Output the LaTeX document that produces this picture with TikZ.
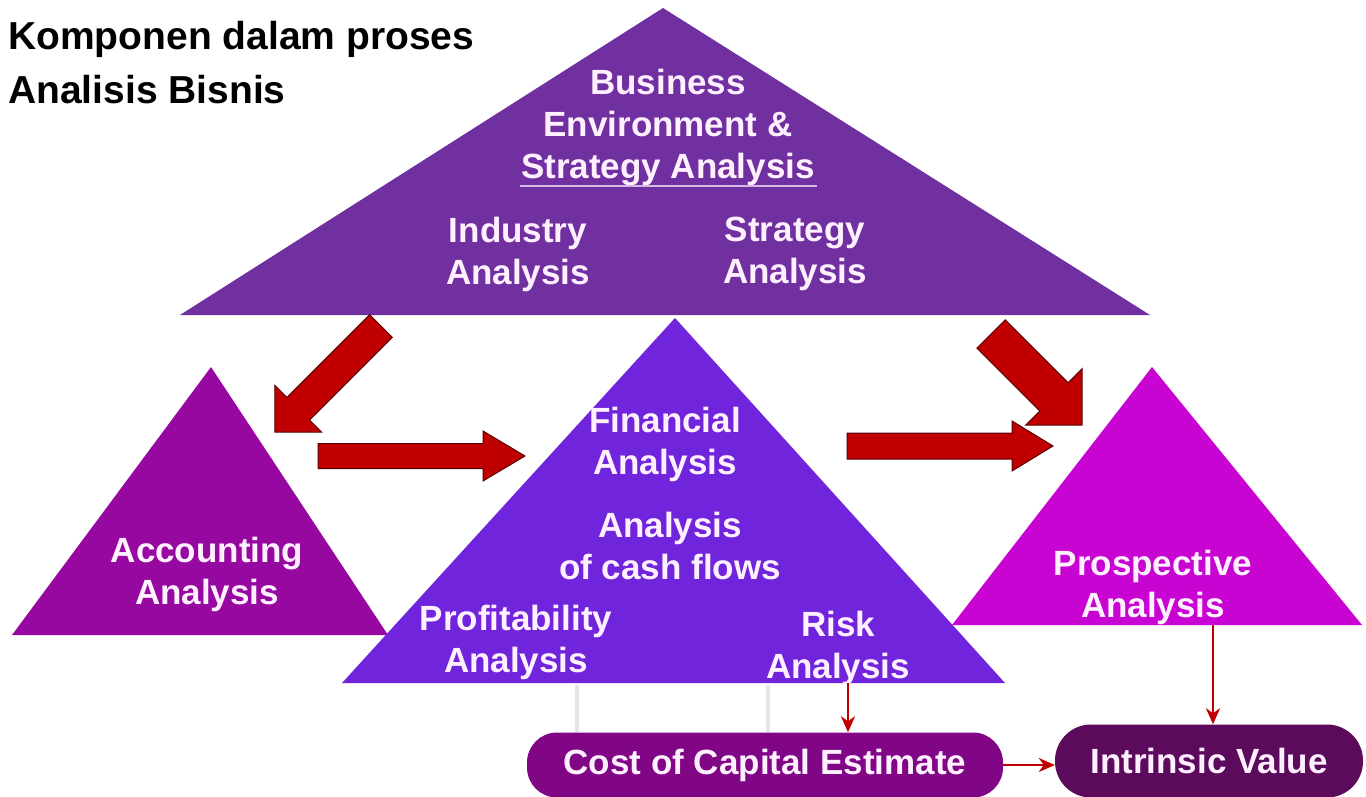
\documentclass[tikz,border=0pt]{standalone}
\usepackage{fontspec}
\setmainfont{Liberation Sans}
\usetikzlibrary{
	calc,
	arrows.meta
}

\definecolor{topviolet}{RGB}{112,48,160}
\definecolor{acctpurple}{RGB}{150,8,160}
\definecolor{finviolet}{RGB}{112,36,220}
\definecolor{prospmagenta}{RGB}{200,4,210}
\definecolor{costpurple}{RGB}{128,6,134}
\definecolor{valuepurple}{RGB}{92,10,92}
\definecolor{arrowred}{RGB}{192,0,0}
\definecolor{arrowdark}{RGB}{90,0,0}
\definecolor{paletext}{RGB}{255,240,255}

% block arrow: tail, angle, length, shaft width, head width, head length
\newcommand{\blockarrow}[6]{%
	\begin{scope}[shift={(#1)}, rotate=#2]
		\draw[bigarrow] (0,-#4/2) -- (#3-#6,-#4/2) -- (#3-#6,-#5/2) -- (#3,0)
			-- (#3-#6,#5/2) -- (#3-#6,#4/2) -- (0,#4/2) -- cycle;
	\end{scope}}

\begin{document}
\begin{tikzpicture}[
	x=1pt, y=-1pt,
	tritext/.style={text=paletext, font=\fontsize{35}{42}\selectfont\bfseries, align=center, inner sep=0},
	titletext/.style={font=\fontsize{39}{54}\selectfont\bfseries, inner sep=0, anchor=base west},
	pill/.style={text=paletext, font=\fontsize{35}{42}\selectfont\bfseries, inner sep=0},
	bigarrow/.style={fill=arrowred, draw=arrowdark, line width=1pt, line join=miter},
	link/.style={-{Stealth[length=16pt, width=14pt, inset=5pt]}, draw=arrowred, line width=2.5pt},
	ghost/.style={draw=black!10, line width=4pt}
]
	\useasboundingbox (0,0) rectangle (1366,797);

	% triangles
	\fill[topviolet] (663,8) -- (1150,315) -- (180,315) -- cycle;
	\fill[acctpurple] (211,367) -- (388,635) -- (12,635) -- cycle;
	\fill[finviolet] (675,318) -- (1005,683) -- (342,683) -- cycle;
	\fill[prospmagenta] (1152,367) -- (1362,625) -- (952,625) -- cycle;

	% faint traces under the middle triangle
	\draw[ghost] (577,685) -- (577,732);
	\draw[ghost] (768,685) -- (768,732);

	% block arrows
	\coordinate (a1) at (381,326);
	\coordinate (a2) at (318,456);
	\coordinate (a3) at (847,446);
	\coordinate (a4) at (991,334);
	\blockarrow{a1}{225}{150}{32}{66}{33}
	\blockarrow{a2}{0}{207}{25}{50}{42}
	\blockarrow{a3}{0}{206}{26}{50}{41}
	\blockarrow{a4}{-45}{129}{40}{80}{40}

	% title
	\node[titletext] (title1) at (8,50) {Komponen dalam proses};
	\node[titletext] (title2) at (8,104) {Analisis Bisnis};

	% texts
	\node[tritext] (business) at (668,128) {Business\\Environment \&\\Strategy Analysis};
	\coordinate (ulL) at (520,186);
	\coordinate (ulR) at (817,186);
	\draw[draw=paletext!70!topviolet, line width=1.5pt] (ulL) -- (ulR);
	\node[tritext] (industry) at (518,254) {Industry\\Analysis};
	\node[tritext] (strategy) at (795,254) {Strategy\\Analysis};
	\node[tritext] (accounting) at (207,574) {Accounting\\Analysis};
	\node[tritext] (financial) at (665,444) {Financial\\Analysis};
	\node[tritext] (cashflow) at (670,546) {Analysis\\of cash flows};
	\node[tritext] (profit) at (516,642) {Profitability\\Analysis};
	\node[tritext] (risk) at (838,648) {Risk\\Analysis};
	\node[tritext] (prospective) at (1153,587) {Prospective\\Analysis};

	% result boxes
	\node[pill, fill=costpurple, rounded corners=30pt, minimum width=476pt, minimum height=65pt] (cost) at (765,765) {Cost of Capital Estimate};
	\node[pill, fill=valuepurple, rounded corners=36pt, minimum width=308pt, minimum height=73pt] (value) at (1209,761) {Intrinsic Value};

	% connectors
	\coordinate (riskbase) at (848,683);
	\coordinate (prospbase) at (1213,625);
	\draw[link] (riskbase) -- (riskbase |- cost.north);
	\draw[link] (prospbase) -- (prospbase |- value.north);
	\draw[link] (cost.east) -- (cost.east -| value.west);
\end{tikzpicture}
\end{document}
